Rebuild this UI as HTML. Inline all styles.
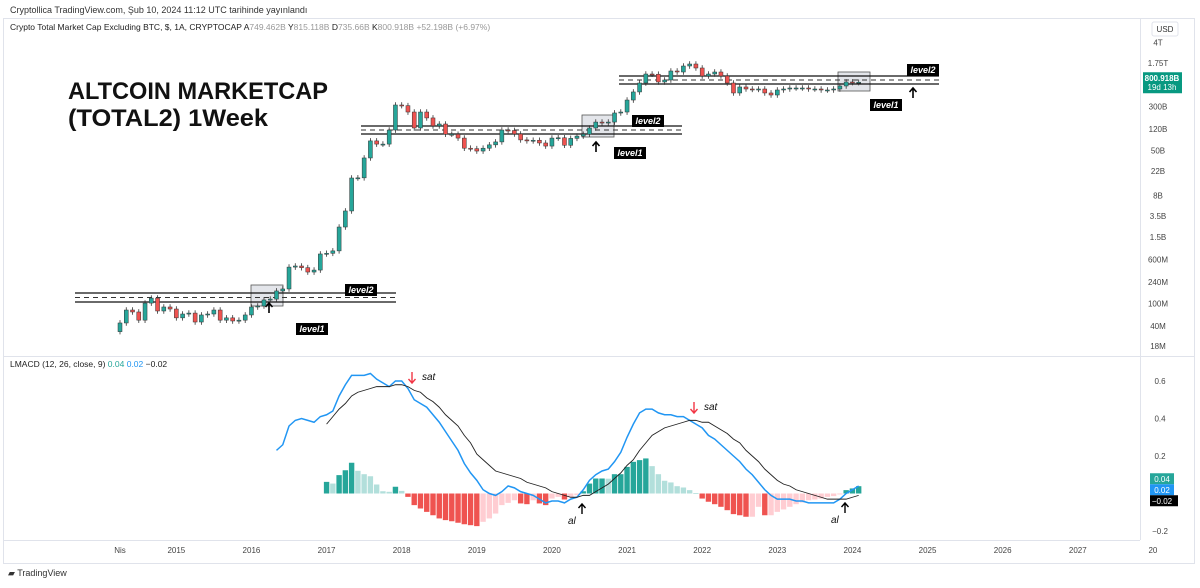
<!DOCTYPE html>
<html><head><meta charset="utf-8">
<style>
html,body{margin:0;padding:0;background:#fff;}
body{width:1200px;height:583px;overflow:hidden;font-family:"Liberation Sans",sans-serif;}
svg text{font-family:"Liberation Sans",sans-serif;}
</style></head>
<body>
<svg id="chart" width="1200" height="583" xmlns="http://www.w3.org/2000/svg">
  <rect x="0" y="0" width="1200" height="583" fill="#fff"/>
  <text x="10" y="13" font-size="9" fill="#333">Cryptollica TradingView.com, Şub 10, 2024 11:12 UTC tarihinde yayınlandı</text>
  <rect x="3.5" y="18.5" width="1191" height="545" fill="none" stroke="#e0e3eb"/>
  <line x1="3" y1="356.5" x2="1195" y2="356.5" stroke="#e0e3eb"/>
  <line x1="3" y1="540.5" x2="1140" y2="540.5" stroke="#e0e3eb"/>
  <line x1="1140.5" y1="18" x2="1140.5" y2="540" stroke="#e0e3eb"/>
  <g font-size="8.5">
    <text x="10" y="30" fill="#222">Crypto Total Market Cap Excluding BTC, $, 1A, CRYPTOCAP <tspan fill="#222">A</tspan><tspan fill="#999">749.462B</tspan> <tspan fill="#222">Y</tspan><tspan fill="#999">815.118B</tspan> <tspan fill="#222">D</tspan><tspan fill="#999">735.66B</tspan> <tspan fill="#222">K</tspan><tspan fill="#999">800.918B</tspan> <tspan fill="#999">+52.198B (+6.97%)</tspan></text>
  </g>
  <rect x="1152" y="22" width="26" height="14" fill="#fff" stroke="#e0e3eb" rx="2"/>
  <text x="1165" y="32" font-size="8" fill="#333" text-anchor="middle">USD</text>
  <text x="68" y="99" font-size="24" font-weight="bold" fill="#111" textLength="260" lengthAdjust="spacingAndGlyphs">ALTCOIN MARKETCAP</text>
  <text x="68" y="126" font-size="24" font-weight="bold" fill="#111" textLength="200" lengthAdjust="spacingAndGlyphs">(TOTAL2) 1Week</text>
  <g id="levels"></g>
  <g id="candles"></g>
  <g id="priceaxis"></g>
  <g id="macd"></g>
  <g id="timeaxis"></g>
  <g id="annotations"></g>
  <text x="10" y="367" font-size="8.5" fill="#222">LMACD (12, 26, close, 9) <tspan fill="#26a69a">0.04</tspan> <tspan fill="#2196f3">0.02</tspan> <tspan fill="#222">−0.02</tspan></text>
  <text x="8" y="576" font-size="9" fill="#333">▰ TradingView</text>
</svg>
<script>
const NS='http://www.w3.org/2000/svg';
// ---- data ----
const startYear=2014, startMonth=3; // April 2014 (0-based month)
const firstOpen=0.032; // billions USD
const closes=[0.0455,0.077,0.0711,0.051,0.102,0.125,0.074,0.0871,0.0802,0.056,0.0655,0.068,0.0473,0.063,0.0655,0.077,0.051,0.056,0.0493,0.051,0.063,0.0871,0.0906,0.116,0.120,0.167,0.181,
0.44,0.46,0.43,0.36,0.39,0.75,0.77,0.85,2.24,4.3,16.4,16.5,37,74,65,65,115,318,310,239,125,239,188,136,147,97,97,83,55,54,49,55,63,71,115,113,98,77,74,76,68,60,83,84,62,82,90,
97,125,159,153,159,230,239,389,540,777,1119,1110,809,877,1265,1214,1549,1680,1429,1032,1119,1214,1032,777,518,661,609,600,609,518,477,585,609,634,634,634,609,609,585,585,609,688,810,790,801];
const macdStart=25;
const macdValues=[0.23,0.26,0.36,0.39,0.40,0.39,0.38,0.41,0.42,0.44,0.52,0.58,0.63,0.63,0.63,0.64,0.61,0.59,0.57,0.60,0.60,0.56,0.50,0.48,0.46,0.42,0.38,0.33,0.28,0.23,0.16,0.11,0.07,0.02,0.00,-0.01,0.01,0.04,0.03,0.01,0.00,-0.01,-0.03,-0.05,-0.04,-0.04,-0.05,-0.03,-0.02,0.02,0.07,0.10,0.12,0.13,0.17,0.22,0.30,0.37,0.43,0.45,0.45,0.43,0.42,0.42,0.41,0.41,0.39,0.37,0.35,0.31,0.29,0.26,0.23,0.20,0.17,0.13,0.10,0.06,0.02,-0.01,-0.03,-0.03,-0.03,-0.04,-0.04,-0.05,-0.05,-0.05,-0.05,-0.05,-0.03,0.00,0.02,0.04];
const signalStart=33;
const signalValues=[0.37,0.41,0.45,0.48,0.52,0.54,0.55,0.56,0.57,0.57,0.57,0.58,0.58,0.57,0.55,0.54,0.51,0.49,0.46,0.42,0.39,0.36,0.31,0.27,0.21,0.18,0.15,0.12,0.11,0.10,0.09,0.08,0.06,0.05,0.04,0.03,0.01,0.00,-0.01,-0.02,-0.02,-0.01,-0.01,0.01,0.03,0.05,0.08,0.11,0.15,0.18,0.23,0.27,0.31,0.33,0.35,0.36,0.37,0.38,0.39,0.39,0.38,0.38,0.36,0.34,0.32,0.29,0.27,0.23,0.20,0.17,0.13,0.10,0.07,0.05,0.04,0.02,0.01,0.00,-0.01,-0.02,-0.03,-0.03,-0.03,-0.03,-0.02,-0.01];
const histStart=33;
const histValues=[0.062,0.053,0.098,0.124,0.164,0.121,0.103,0.092,0.048,0.012,0.009,0.036,0.014,-0.018,-0.062,-0.080,-0.098,-0.116,-0.133,-0.142,-0.148,-0.156,-0.164,-0.169,-0.174,-0.151,-0.133,-0.107,-0.062,-0.05,-0.036,-0.053,-0.057,-0.036,-0.053,-0.062,-0.027,-0.018,-0.032,-0.018,-0.009,
0.012,0.053,0.08,0.08,0.079,0.103,0.103,0.142,0.169,0.178,0.187,0.146,0.103,0.068,0.059,0.039,0.032,0.018,0.002,-0.027,-0.044,-0.057,-0.071,-0.089,-0.11,-0.116,-0.124,-0.124,-0.071,-0.116,-0.116,-0.098,-0.085,-0.071,-0.057,-0.048,-0.036,-0.032,-0.027,-0.018,-0.014,-0.005,0.018,0.027,0.039];
const priceTicks=[4000,1750,300,120,50,22,8,3.5,1.5,0.6,0.24,0.1,0.04,0.018];
const priceTickLabels=['4T','1.75T','300B','120B','50B','22B','8B','3.5B','1.5B','600M','240M','100M','40M','18M'];
const macdTicks=[0.6,0.4,0.2,-0.2];
const timeTicks=[2014.25,2015,2016,2017,2018,2019,2020,2021,2022,2023,2024,2025,2026,2027,2028];
const timeTickLabels=['Nis','2015','2016','2017','2018','2019','2020','2021','2022','2023','2024','2025','2026','2027','20'];
// ---- scales ----
const x0=120, monthW=6.26;
function xIdx(i){return x0+i*monthW;}
function xTime(t){return x0+(t-(startYear+startMonth/12))*12*monthW;}
function yPrice(vB){return 63+(Math.log10(1750)-Math.log10(vB))*56.7;}
function yMacd(v){return 493.5-v*187.5;}
function mk(tag,attrs,parent){const e=document.createElementNS(NS,tag);for(const k in attrs)e.setAttribute(k,attrs[k]);parent.appendChild(e);return e;}
// ---- candles ----
const cg=document.getElementById('candles');
closes.forEach((c,i)=>{
  const o=i===0?firstOpen:closes[i-1];
  const up=c>=o;
  const hi=Math.max(o,c)*1.12, lo=Math.min(o,c)/1.12;
  const x=xIdx(i);
  const g=mk('g',{},cg);
  
  
  mk('line',{x1:x,x2:x,y1:yPrice(hi),y2:yPrice(lo),stroke:'#333','stroke-width':0.8},g);
  const yt=yPrice(Math.max(o,c)), yb=yPrice(Math.min(o,c));
  mk('rect',{x:x-2,y:yt,width:4,height:Math.max(1,yb-yt),fill:up?'#26a69a':'#ef5350',stroke:'#333','stroke-width':0.5},g);
});
// ---- price axis ----
const pa=document.getElementById('priceaxis');
priceTicks.forEach((v,i)=>{
  const t=mk('text',{x:1158,y:yPrice(v)+3,'font-size':8,fill:'#444','text-anchor':'middle'},pa);
  
  
  t.textContent=priceTickLabels[i];
});
const lastY=yPrice(closes[closes.length-1]);
const pl=mk('rect',{x:1143,y:lastY-10,width:39,height:21,fill:'#089981'},pa);


const pt1=mk('text',{x:1162,y:lastY-1,'font-size':8,fill:'#fff','text-anchor':'middle','font-weight':'bold'},pa);pt1.textContent='800.918B';


const pt2=mk('text',{x:1162,y:lastY+8,'font-size':8,fill:'#fff','text-anchor':'middle'},pa);pt2.textContent='19d 13h';


// ---- levels ----
const lv=document.getElementById('levels');
const levelBoxes=[[75,396,293,302,251,283,285,306,269,303,345,285,296,324],[361,682,126,134,582,614,115,137,596,142,632,116,614,148],[619,939,76,84,838,870,72,91,913,88,907,65,870,100]];
levelBoxes.forEach(L=>{
  const g=mk('g',{},lv);
  
  
  mk('rect',{x:L[4],y:L[6],width:L[5]-L[4],height:L[7]-L[6],fill:'#d1d4dc','fill-opacity':0.6,stroke:'#555','stroke-width':0.8},g);
  mk('line',{x1:L[0],x2:L[1],y1:L[2],y2:L[2],stroke:'#111','stroke-width':1.3},g);
  mk('line',{x1:L[0],x2:L[1],y1:L[3],y2:L[3],stroke:'#111','stroke-width':1.3},g);
  mk('line',{x1:L[0],x2:L[1],y1:(L[2]+L[3])/2,y2:(L[2]+L[3])/2,stroke:'#333','stroke-width':1,'stroke-dasharray':'5 4'},g);
  mk('path',{d:`M${L[8]} ${L[9]+10}V${L[9]} M${L[8]-3.5} ${L[9]+4}L${L[8]} ${L[9]}L${L[8]+3.5} ${L[9]+4}`,stroke:'#000','stroke-width':1.6,fill:'none'},g);
  [[L[10],L[11],'level2'],[L[12],L[13],'level1']].forEach(a=>{
    mk('rect',{x:a[0],y:a[1]-1,width:32,height:12,fill:'#000'},g);
    const t=mk('text',{x:a[0]+16,y:a[1]+8,'font-size':9,'font-style':'italic','font-weight':'bold',fill:'#fff','text-anchor':'middle'},g);
    t.textContent=a[2];
  });
});
// ---- MACD ----
const mg=document.getElementById('macd');
histValues.forEach((h,k)=>{
  const idx=histStart+k;
  const prevH=k>0?histValues[k-1]:h;
  let col;
  if(h>=0) col=h>=prevH?'#26a69a':'#b2dfdb'; else col=h<prevH?'#ef5350':'#ffcdd2';
  const y0=yMacd(0), y1=yMacd(h);
  const r=mk('rect',{x:xIdx(idx)-2.7,y:Math.min(y0,y1),width:5.4,height:Math.max(0.8,Math.abs(y1-y0)),fill:col},mg);
  
  
});
const mp=mk('polyline',{points:macdValues.map((v,k)=>xIdx(macdStart+k)+','+yMacd(v)).join(' '),fill:'none',stroke:'#2196f3','stroke-width':1.5},mg);


const sp=mk('polyline',{points:signalValues.map((v,k)=>xIdx(signalStart+k)+','+yMacd(v)).join(' '),fill:'none',stroke:'#222','stroke-width':0.9},mg);


macdTicks.forEach(v=>{
  const t=mk('text',{x:1160,y:yMacd(v)+3,'font-size':8,fill:'#444','text-anchor':'middle'},mg);
  
  
  t.textContent=v.toFixed(1).replace('-','−');
});
[[0.04,'#26a69a','0.04',-1],[0.02,'#2196f3','0.02',0],[-0.02,'#000','−0.02',1]].forEach(a=>{
  const yy=yMacd(0.02)+a[3]*11;
  const r=mk('rect',{x:1150,y:yy-5.5,width:a[3]==1?28:24,height:11,fill:a[1]},mg);
  
  
  const t=mk('text',{x:1162,y:yy+3,'font-size':8,fill:'#fff','text-anchor':'middle'},mg);t.textContent=a[2];
});
// ---- time axis ----
const ta=document.getElementById('timeaxis');
timeTicks.forEach((t,i)=>{
  const e=mk('text',{x:xTime(t),y:553,'font-size':8,fill:'#444','text-anchor':'middle'},ta);
  
  
  e.textContent=timeTickLabels[i];
});
// ---- annotations ----
const an=document.getElementById('annotations');
[[412,372,'sat','#f23645',true],[694,402,'sat','#f23645',true],[582,504,'al','#000',false],[845,503,'al','#000',false]].forEach(a=>{
  const g=mk('g',{},an);
  
  
  if(a[4]){
    mk('path',{d:`M${a[0]} ${a[1]}V${a[1]+11} M${a[0]-3.5} ${a[1]+7}L${a[0]} ${a[1]+11}L${a[0]+3.5} ${a[1]+7}`,stroke:a[3],'stroke-width':1.4,fill:'none'},g);
    const t=mk('text',{x:a[0]+10,y:a[1]+8,'font-size':10,'font-style':'italic',fill:'#111'},g);t.textContent=a[2];
  } else {
    mk('path',{d:`M${a[0]} ${a[1]+10}V${a[1]} M${a[0]-3.5} ${a[1]+4}L${a[0]} ${a[1]}L${a[0]+3.5} ${a[1]+4}`,stroke:a[3],'stroke-width':1.4,fill:'none'},g);
    const t=mk('text',{x:a[0]-14,y:a[1]+20,'font-size':10,'font-style':'italic',fill:'#111'},g);t.textContent=a[2];
  }
});
</script>
</body></html>
